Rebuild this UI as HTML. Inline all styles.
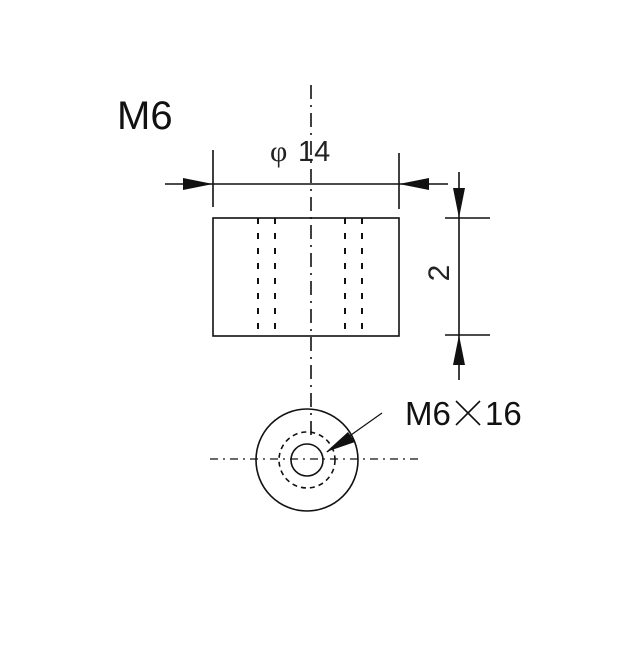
<!DOCTYPE html>
<html><head><style>body{margin:0;background:#fff}</style></head><body>
<svg width="640" height="640" viewBox="0 0 640 640" xmlns="http://www.w3.org/2000/svg" font-family="Liberation Sans, sans-serif">
<rect width="640" height="640" fill="#fff"/>
<text x="117" y="129" font-size="40" fill="#111">M6</text>
<text x="270" y="161" font-size="30" fill="#222" font-family="Liberation Serif, serif">φ</text>
<text x="298" y="161" font-size="29" fill="#222">14</text>
<g stroke="#111" stroke-width="1.6" fill="none">
<line x1="311" y1="85" x2="311" y2="440" stroke-dasharray="14,6,2,6"/>
<rect x="213" y="218" width="186" height="118"/>
<line x1="258" y1="218" x2="258" y2="336" stroke-dasharray="6,9" stroke-width="2"/>
<line x1="275" y1="218" x2="275" y2="336" stroke-dasharray="6,9" stroke-width="2"/>
<line x1="345" y1="218" x2="345" y2="336" stroke-dasharray="6,9" stroke-width="2"/>
<line x1="362" y1="218" x2="362" y2="336" stroke-dasharray="6,9" stroke-width="2"/>
<line x1="213" y1="150" x2="213" y2="207"/>
<line x1="399" y1="153" x2="399" y2="209"/>
<line x1="165" y1="184" x2="448" y2="184"/>
<line x1="445" y1="218" x2="490" y2="218"/>
<line x1="445" y1="335" x2="490" y2="335"/>
<line x1="459" y1="172" x2="459" y2="380"/>
<circle cx="307" cy="460" r="51"/>
<circle cx="307" cy="460" r="16"/>
<circle cx="307" cy="460" r="28" stroke-dasharray="5,4"/>
<line x1="210" y1="459" x2="420" y2="459" stroke-dasharray="8,5,2,5" stroke-width="1.2"/>
<line x1="327" y1="452" x2="382" y2="413" stroke-width="1.2"/>
</g>
<g fill="#111">
<polygon points="213,184 183,178 183,190"/>
<polygon points="399,184 429,178 429,190"/>
<polygon points="459,218 453,188 465,188"/>
<polygon points="459,335 453,365 465,365"/>
<polygon points="326,452 348,432 355,442"/>
</g>
<text transform="translate(449,273) rotate(-90)" font-size="30" fill="#222" text-anchor="middle">2</text>
<text x="405" y="425" font-size="33" fill="#111">M6</text>
<g stroke="#111" stroke-width="1.6"><line x1="456" y1="401" x2="480" y2="425"/><line x1="480" y1="401" x2="456" y2="425"/></g>
<text x="485" y="425" font-size="33" fill="#111">16</text>
<text x="0" y="0" font-size="1" fill="#fff">×</text>
</svg>
</body></html>
